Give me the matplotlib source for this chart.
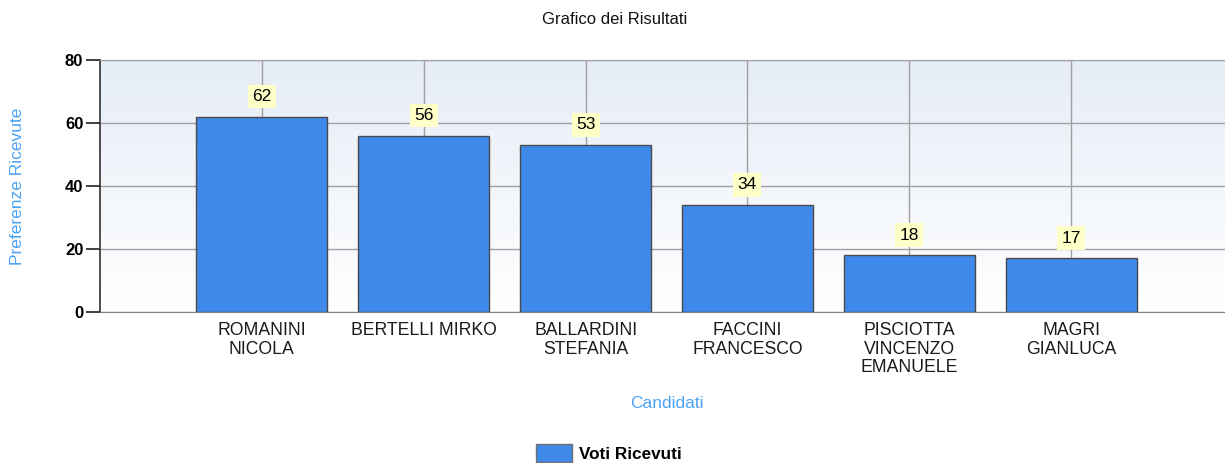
import matplotlib.pyplot as plt
import numpy as np

candidati = ["ROMANINI\nNICOLA", "BERTELLI MIRKO", "BALLARDINI\nSTEFANIA",
             "FACCINI\nFRANCESCO", "PISCIOTTA\nVINCENZO\nEMANUELE", "MAGRI\nGIANLUCA"]
voti = [62, 56, 53, 34, 18, 17]
yticks = [0, 20, 40, 60, 80]

plt.rcParams['font.family'] = ['Liberation Sans', 'DejaVu Sans']

fig = plt.figure(figsize=(12.25, 4.63), dpi=100)
ax = fig.add_axes([100 / 1225, 151 / 463, 1133 / 1225, 252 / 463])

x = np.arange(1, len(voti) + 1)
ax.set_xlim(0, len(voti) + 1)
ax.set_ylim(0, 80)

# gradient background
grad = np.linspace(0, 1, 256).reshape(-1, 1)
top = np.array([0.902, 0.929, 0.969])
bot = np.array([1.0, 1.0, 1.0])
img = top * (1 - grad[..., None]) + bot * grad[..., None]
img = np.repeat(img, 2, axis=1)
ax.imshow(img, extent=[0, 1, 0, 1], transform=ax.transAxes, aspect='auto', zorder=0)

ax.set_xticks(x)
ax.set_yticks(yticks)
ax.grid(True, color='#a0a0a0', linewidth=1, zorder=1)
ax.set_axisbelow(True)

bars = ax.bar(x, voti, width=0.81, color='#3f89ea', edgecolor='#4a4a4a',
              linewidth=1, zorder=3)

for xi, v in zip(x, voti):
    ax.annotate(str(v), (xi, v), xytext=(0, 14.5), textcoords='offset points',
                ha='center', va='center', fontsize=12.5, zorder=4,
                bbox=dict(boxstyle='square,pad=0.25', fc='#ffffc8', ec='none'))

ax.set_xticklabels(candidati, fontsize=12.7, color='#1a1a1a', linespacing=1.1)
ax.tick_params(axis='x', length=5, width=1, direction='in', pad=7.5, color='#404040')
ax.tick_params(axis='y', length=10, width=1.2, labelsize=12, pad=2, color='#202020')
for lab in ax.get_yticklabels():
    lab.set_fontweight('bold')

ax.spines['right'].set_visible(False)
ax.spines['top'].set_color('#a0a0a0')
ax.spines['bottom'].set_color('#808080')
ax.spines['left'].set_color('#303030')
ax.spines['left'].set_linewidth(1.2)

ax.set_ylabel("Preferenze Ricevute", color='#4ba3f5', fontsize=12.5, va='center')
ax.yaxis.set_label_coords(-82 / 1133, 0.5)
ax.set_xlabel("Candidati", color='#4ba3f5', fontsize=12.5, va='center')
ax.xaxis.set_label_coords(0.5, -(403 - 312) / 252)

fig.text(615 / 1225, 1 - 20 / 463, "Grafico dei Risultati", ha='center', va='center',
         fontsize=12, color='#111111')

handle = plt.Rectangle((0, 0), 1, 1, fc='#3f89ea', ec='#707070')
fig.legend([handle], ["Voti Ricevuti"], loc='center', bbox_to_anchor=(609 / 1225, 1 - 453 / 463),
           frameon=False, prop={'weight': 'bold', 'size': 12.3}, handlelength=2.1,
           handleheight=1.3, handletextpad=0.4)

fig.savefig("out.png", dpi=100)
